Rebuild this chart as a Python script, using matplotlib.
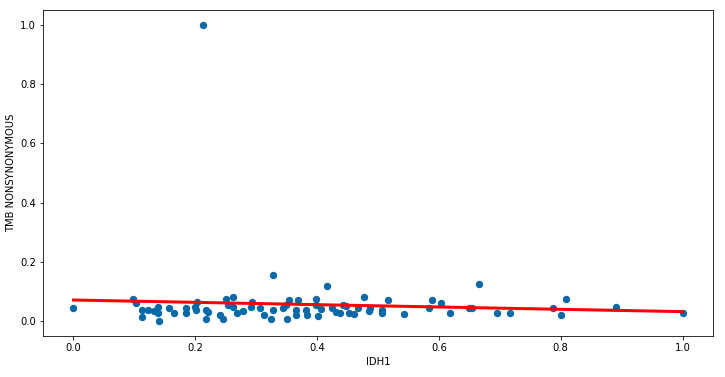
import numpy as np
import matplotlib
matplotlib.use("Agg")
import matplotlib.pyplot as plt

idh1 = [0.000, 0.0975, 0.103, 0.112, 0.112, 0.122, 0.133, 0.139, 0.139, 0.141,
        0.157, 0.165, 0.184, 0.185, 0.199, 0.203, 0.201, 0.212, 0.218, 0.218,
        0.221, 0.240, 0.2456, 0.251, 0.254, 0.262, 0.262, 0.268, 0.278, 0.291,
        0.293, 0.306, 0.313, 0.325, 0.327, 0.327, 0.344, 0.349, 0.354, 0.350,
        0.366, 0.366, 0.369, 0.382, 0.383, 0.399, 0.399, 0.401, 0.407, 0.416,
        0.424, 0.431, 0.4375, 0.443, 0.447, 0.453, 0.4605, 0.4676, 0.4775, 0.486,
        0.487, 0.506, 0.506, 0.517, 0.543, 0.584, 0.588, 0.603, 0.619, 0.650,
        0.655, 0.665, 0.696, 0.717, 0.788, 0.801, 0.809, 0.891, 1.000]
tmb = [0.046, 0.076, 0.063, 0.037, 0.0145, 0.037, 0.035, 0.048, 0.029, 0.000,
       0.046, 0.029, 0.046, 0.029, 0.048, 0.065, 0.039, 1.000, 0.039, 0.006,
       0.031, 0.020, 0.007, 0.076, 0.056, 0.080, 0.048, 0.026, 0.034, 0.048,
       0.065, 0.043, 0.020, 0.009, 0.155, 0.037, 0.043, 0.054, 0.071, 0.007,
       0.037, 0.020, 0.071, 0.037, 0.020, 0.076, 0.054, 0.017, 0.040, 0.118,
       0.043, 0.031, 0.026, 0.054, 0.052, 0.029, 0.025, 0.046, 0.080, 0.035,
       0.046, 0.037, 0.026, 0.073, 0.023, 0.043, 0.073, 0.063, 0.026, 0.046,
       0.043, 0.127, 0.029, 0.026, 0.043, 0.020, 0.076, 0.048, 0.026]

x = np.array(idh1)
y = np.array(tmb)
slope, intercept = np.polyfit(x, y, 1)
print(slope, intercept)

W, H = 725, 377
fig = plt.figure(figsize=(W / 72, H / 72), dpi=72)
ax = fig.add_axes([43 / W, 1 - 336 / H, (713 - 43) / W, (336 - 10) / H])
ax.scatter(x, y, s=40, color='#0569a8', zorder=2)
xs = np.sort(x)
ax.plot(xs, intercept + slope * xs, color='red', lw=3, zorder=3)
ax.set_xlim(-0.05, 1.05)
ax.set_ylim(-0.05, 1.05)
ax.set_xticks([0.0, 0.2, 0.4, 0.6, 0.8, 1.0])
ax.set_yticks([0.0, 0.2, 0.4, 0.6, 0.8, 1.0])
ax.tick_params(labelsize=10)
ax.set_xlabel('IDH1', fontsize=10)
ax.set_ylabel('TMB NONSYNONYMOUS', fontsize=10)
fig.savefig('out.png', dpi=72)
